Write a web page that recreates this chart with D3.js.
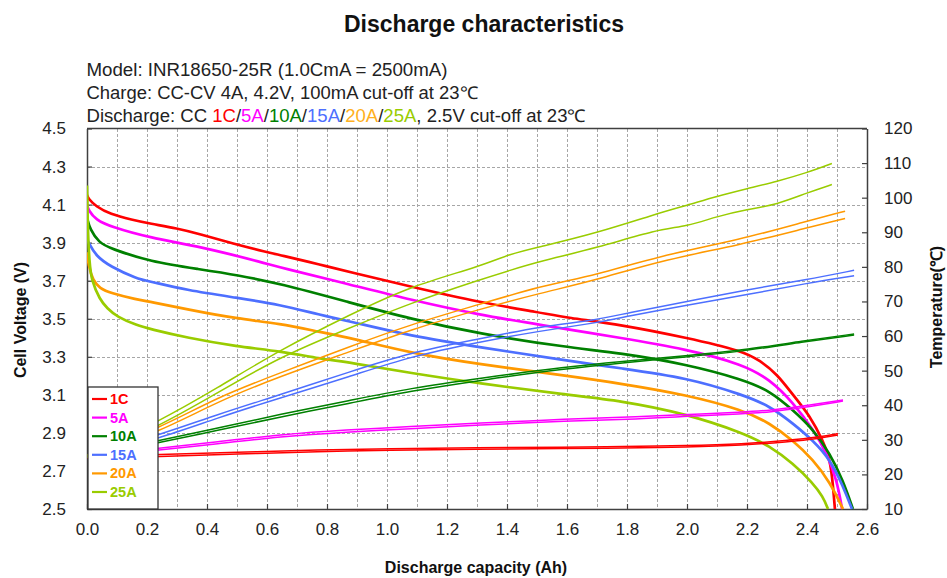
<!DOCTYPE html>
<html><head><meta charset="utf-8">
<script src="https://cdn.jsdelivr.net/npm/d3@7"></script>
<style>
html,body{margin:0;padding:0;background:#fff;}
svg{display:block;font-family:"Liberation Sans",Arial,sans-serif;}
</style></head>
<body>
<svg id="chart" width="947" height="578"></svg>
<script>
// ---------- DATA ----------
const seriesNames = ["1C","5A","10A","15A","20A","25A"];
const seriesColors = ["#ff0000","#ff00ff","#008000","#4d6fff","#ff9900","#99cc00"];
const headerColors = ["#ff0000","#ff00ff","#008000","#4d6fff","#ffb020","#99cc00"];
const capTicks = [0,0.2,0.4,0.6,0.8,1.0,1.2,1.4,1.6,1.8,2.0,2.2,2.4,2.6];
const voltTicks = [2.5,2.7,2.9,3.1,3.3,3.5,3.7,3.9,4.1,4.3,4.5];
const tempTicks = [10,20,30,40,50,60,70,80,90,100,110,120];

// voltage curves: [capacity Ah, voltage V]
const voltage1C = [[0,4.15],[0.005,4.13],[0.03,4.09],[0.077,4.05],[0.15,4.02],[0.21,4.0],[0.3,3.975],[0.377,3.945],[0.487,3.895],[0.6,3.85],[0.643,3.835],[0.777,3.785],[0.877,3.745],[1.077,3.67],[1.31,3.585],[1.51,3.533],[1.6,3.505],[1.777,3.47],[2.0,3.40],[2.187,3.33],[2.243,3.28],[2.3,3.21],[2.353,3.10],[2.41,2.99],[2.453,2.86],[2.477,2.76],[2.487,2.62],[2.493,2.5]];
const voltage5A = [[0,4.1],[0.005,4.07],[0.03,4.02],[0.077,3.985],[0.21,3.925],[0.377,3.88],[0.6,3.79],[0.643,3.77],[0.877,3.68],[1.077,3.60],[1.31,3.52],[1.51,3.468],[1.777,3.40],[2.0,3.34],[2.187,3.26],[2.277,3.18],[2.353,3.06],[2.42,2.92],[2.467,2.79],[2.5,2.65],[2.517,2.5]];
const voltage10A = [[0,4.03],[0.01,3.97],[0.04,3.9],[0.077,3.87],[0.21,3.80],[0.377,3.76],[0.5,3.73],[0.643,3.685],[0.877,3.585],[1.077,3.50],[1.31,3.42],[1.6,3.35],[1.777,3.32],[2.0,3.26],[2.187,3.18],[2.277,3.12],[2.353,3.02],[2.42,2.92],[2.477,2.79],[2.52,2.65],[2.553,2.5]];
const voltage15A = [[0,3.92],[0.005,3.9],[0.03,3.83],[0.077,3.775],[0.167,3.71],[0.21,3.696],[0.333,3.65],[0.5,3.61],[0.643,3.574],[0.777,3.52],[0.877,3.486],[1.077,3.41],[1.31,3.35],[1.6,3.28],[1.777,3.24],[2.0,3.19],[2.187,3.10],[2.277,3.04],[2.353,2.95],[2.42,2.86],[2.477,2.76],[2.52,2.62],[2.55,2.5]];
const voltage20A = [[0,3.85],[0.005,3.78],[0.02,3.7],[0.043,3.66],[0.077,3.636],[0.167,3.6],[0.21,3.59],[0.333,3.55],[0.5,3.50],[0.643,3.475],[0.777,3.43],[0.877,3.40],[1.077,3.32],[1.31,3.26],[1.6,3.20],[1.777,3.16],[2.0,3.10],[2.187,3.02],[2.277,2.95],[2.353,2.86],[2.42,2.76],[2.477,2.64],[2.52,2.5]];
const voltage25A = [[0,4.2],[0.003,3.95],[0.008,3.8],[0.015,3.7],[0.043,3.6],[0.067,3.555],[0.1,3.51],[0.167,3.465],[0.21,3.446],[0.333,3.40],[0.5,3.354],[0.643,3.33],[0.777,3.29],[0.877,3.27],[1.077,3.215],[1.31,3.16],[1.6,3.10],[1.777,3.07],[2.0,3.0],[2.187,2.9],[2.277,2.83],[2.353,2.74],[2.42,2.636],[2.453,2.565],[2.47,2.5]];

// temperature curves, two sensors: [capacity Ah, temp A, temp B]
const temp1C = [[0,24.8,25.2],[0.24,25.1,25.7],[0.5,25.9,26.4],[0.777,26.6,27.1],[1.0,27.0,27.4],[1.3,27.3,27.7],[1.6,27.5,27.9],[1.777,27.6,28.0],[2.0,27.9,28.3],[2.187,28.4,28.8],[2.333,29.4,29.8],[2.443,30.4,30.8],[2.503,31.4,31.8]];
const temp5A = [[0,25,25.3],[0.24,27,27.6],[0.433,28.8,29.4],[0.643,30.9,31.5],[0.867,32.3,32.9],[1.077,33.2,33.8],[1.3,34.2,34.8],[1.6,35.5,36.0],[1.843,36.0,36.7],[2.0,36.8,37.3],[2.187,37.5,38.0],[2.277,38.0,38.5],[2.387,39.3,39.8],[2.52,41.2,41.5]];
const temp10A = [[0,25,25.3],[0.24,29.2,29.8],[0.433,32.7,33.3],[0.643,36.6,37.4],[0.877,40.6,41.4],[1.077,44.1,44.9],[1.31,47.2,47.8],[1.6,50.6,51.1],[1.777,52.2,52.6],[2.0,54.0,54.3],[2.187,55.6,55.9],[2.387,58.3,58.6],[2.557,60.3,60.6]];
const temp15A = [[0,25,25.5],[0.24,30.3,31.3],[0.433,36.3,37.3],[0.643,42.1,43.0],[0.877,48.3,49.7],[1.077,54.1,55.2],[1.31,58.3,59.2],[1.51,61.5,62.8],[1.7,63.8,64.6],[1.8,65.7,66.7],[2.0,69.0,70.0],[2.2,71.9,73.4],[2.4,75.3,76.3],[2.557,77.4,79.0]];
const temp20A = [[0,25,25.5],[0.24,32.2,33.2],[0.433,41.0,42.3],[0.643,48.3,49.3],[0.877,55.5,57.0],[1.077,61.8,63.3],[1.31,67.8,69.2],[1.51,72.4,74.4],[1.7,76.2,77.7],[1.9,81.6,83.0],[2.18,86.4,87.9],[2.4,91.3,93.2],[2.527,94.0,96.1]];
const temp25A = [[0,25,25.5],[0.24,33.8,35.3],[0.433,43.5,44.9],[0.643,54.0,56.0],[0.877,62.4,66.2],[1.077,69.5,74.4],[1.31,76.3,80.1],[1.41,79.0,83.8],[1.51,81.6,85.8],[1.7,85.5,89.8],[1.9,90.8,95.4],[2.0,91.7,97.8],[2.1,94.6,100.4],[2.2,96.6,102.6],[2.3,98.0,104.7],[2.4,101.4,107.2],[2.483,103.8,109.9]];

const voltageSeries = [voltage1C,voltage5A,voltage10A,voltage15A,voltage20A,voltage25A];
const tempSeries = [temp1C,temp5A,temp10A,temp15A,temp20A,temp25A];

// ---------- LAYOUT ----------
const svg = d3.select("#chart");
const L = 87, R = 867, T = 128.5, B = 509;
const x = d3.scaleLinear().domain([0,2.6]).range([L,R]);
const yV = d3.scaleLinear().domain([2.5,4.5]).range([B,T]);
const yT = d3.scaleLinear().domain([10,120]).range([B,T]);
const axisColor = "#404040";

// title and header
svg.append("text").attr("x",484).attr("y",32).attr("text-anchor","middle")
  .attr("font-size",23).attr("font-weight","bold").attr("fill","#111").text("Discharge characteristics");
svg.append("text").attr("x",86.5).attr("y",76).attr("font-size",17.5).attr("fill","#222")
  .attr("textLength",361).attr("lengthAdjust","spacingAndGlyphs")
  .text("Model: INR18650-25R (1.0CmA = 2500mA)");
svg.append("text").attr("x",86.5).attr("y",98.5).attr("font-size",17.5).attr("fill","#222")
  .attr("textLength",391).attr("lengthAdjust","spacingAndGlyphs")
  .text("Charge: CC-CV 4A, 4.2V, 100mA cut-off at 23℃");
const l3 = svg.append("text").attr("x",86.5).attr("y",122).attr("font-size",17.5).attr("fill","#222")
  .attr("textLength",499).attr("lengthAdjust","spacingAndGlyphs");
l3.append("tspan").text("Discharge: CC ");
seriesNames.forEach((n,i)=>{
  l3.append("tspan").attr("fill",headerColors[i]).text(n);
  if(i<seriesNames.length-1) l3.append("tspan").text("/");
});
l3.append("tspan").text(", 2.5V cut-off at 23℃");

// grid (dashed, crisp)
const grid = svg.append("g").attr("shape-rendering","crispEdges");
d3.range(1,26).forEach(i=>{
  const px = Math.round(x(i/10)) + 0.5;
  grid.append("line").attr("x1",px).attr("x2",px).attr("y1",T).attr("y2",B)
    .attr("stroke","#a6a6a6").attr("stroke-width",1).attr("stroke-dasharray","3,2");
});
voltTicks.slice(1,-1).forEach(v=>{
  const py = Math.round(yV(v)) + 0.5;
  grid.append("line").attr("x1",L).attr("x2",R).attr("y1",py).attr("y2",py)
    .attr("stroke","#a6a6a6").attr("stroke-width",1).attr("stroke-dasharray","3,2");
});

// axes
const fmt1 = d3.format(".1f");
const gx = svg.append("g").attr("transform",`translate(0,${B})`)
  .call(d3.axisBottom(x).tickValues(capTicks).tickFormat(fmt1).tickSizeInner(-5).tickSizeOuter(0).tickPadding(14));
const gl = svg.append("g").attr("transform",`translate(${L},0)`)
  .call(d3.axisLeft(yV).tickValues(voltTicks).tickFormat(fmt1).tickSizeInner(-5).tickSizeOuter(0).tickPadding(21));
const gr = svg.append("g").attr("transform",`translate(${R},0)`)
  .call(d3.axisRight(yT).tickValues(tempTicks).tickFormat(d3.format("d")).tickSizeInner(-5).tickSizeOuter(0).tickPadding(17));
[gx,gl,gr].forEach(g=>{
  g.selectAll("text").attr("font-size",17).attr("fill","#222").attr("font-family","'Liberation Sans',Arial,sans-serif");
  g.selectAll("line").attr("stroke",axisColor).attr("stroke-width",1.2);
  g.select(".domain").attr("stroke",axisColor).attr("stroke-width",1.5);
});
svg.append("line").attr("x1",L).attr("x2",R).attr("y1",T).attr("y2",T).attr("stroke",axisColor).attr("stroke-width",1.5);

// clip
svg.append("clipPath").attr("id","plotclip").append("rect")
  .attr("x",L).attr("y",T).attr("width",R-L).attr("height",B-T+1);
const plot = svg.append("g").attr("clip-path","url(#plotclip)");

// voltage curves
const vLine = d3.line().x(d=>x(d[0])).y(d=>yV(d[1])).curve(d3.curveBasis);
voltageSeries.forEach((s,i)=>{
  plot.append("path").datum(s).attr("d",vLine).attr("fill","none")
    .attr("stroke",seriesColors[i]).attr("stroke-width",2.7).attr("stroke-linejoin","round");
});
// temperature curves (two traces each)
const tLineA = d3.line().x(d=>x(d[0])).y(d=>yT(d[1])).curve(d3.curveBasis);
const tLineB = d3.line().x(d=>x(d[0])).y(d=>yT(d[2])).curve(d3.curveBasis);
tempSeries.forEach((s,i)=>{
  [tLineA,tLineB].forEach(ln=>{
    plot.append("path").datum(s).attr("d",ln).attr("fill","none")
      .attr("stroke",seriesColors[i]).attr("stroke-width",1.5).attr("stroke-linejoin","round");
  });
});

// axis titles
svg.append("text").attr("transform",`translate(26,320) rotate(-90)`).attr("text-anchor","middle")
  .attr("font-size",16).attr("font-weight","bold").attr("fill","#111").text("Cell Voltage (V)");
svg.append("text").attr("transform",`translate(942,307) rotate(-90)`).attr("text-anchor","middle")
  .attr("font-size",16).attr("font-weight","bold").attr("fill","#111").text("Temperature(℃)");
svg.append("text").attr("x",476).attr("y",573).attr("text-anchor","middle")
  .attr("font-size",16).attr("font-weight","bold").attr("fill","#111").text("Discharge capacity (Ah)");

// legend
const lg = svg.append("g");
lg.append("rect").attr("x",88).attr("y",387).attr("width",70).attr("height",122)
  .attr("fill","#fff").attr("stroke","#333").attr("stroke-width",1.3);
const legY = d3.scalePoint().domain(seriesNames).range([399,492]);
seriesNames.forEach((n,i)=>{
  const yy = legY(n);
  lg.append("line").attr("x1",92).attr("x2",107).attr("y1",yy).attr("y2",yy)
    .attr("stroke",seriesColors[i]).attr("stroke-width",2.2);
  lg.append("text").attr("x",110).attr("y",yy+5).attr("font-size",14.5).attr("font-weight","bold")
    .attr("fill",seriesColors[i]).text(n);
});
</script>
</body></html>
